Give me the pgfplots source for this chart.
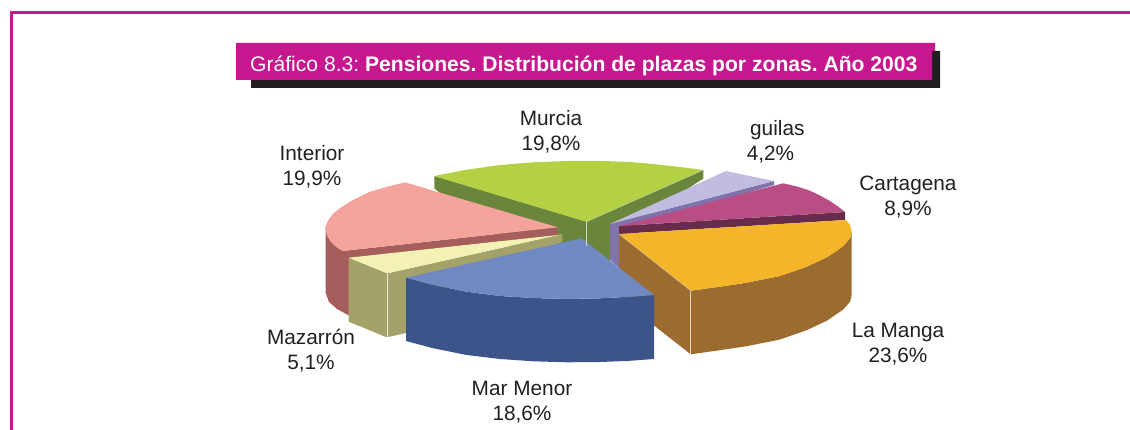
\documentclass[border=0pt]{standalone}
\usepackage{fontspec}
\setmainfont{Liberation Sans}
\usepackage{pgfplots}
\pgfplotsset{compat=1.18}

\definecolor{rosa}{HTML}{C7178E}
\definecolor{negro}{HTML}{231F20}
\definecolor{murciaT}{HTML}{B3D143}
\definecolor{murciaW}{HTML}{6A853C}
\definecolor{aguilasT}{HTML}{C1BDE0}
\definecolor{aguilasW}{HTML}{8073AC}
\definecolor{cartaT}{HTML}{B94E84}
\definecolor{cartaW}{HTML}{672C49}
\definecolor{mangaT}{HTML}{F4B528}
\definecolor{mangaW}{HTML}{9A6C30}
\definecolor{menorT}{HTML}{7089C2}
\definecolor{menorW}{HTML}{3D548B}
\definecolor{mazaT}{HTML}{F3F2B4}
\definecolor{mazaW}{HTML}{A3A268}
\definecolor{interT}{HTML}{F4A49C}
\definecolor{interW}{HTML}{A55E5B}

\begin{document}
\frenchspacing
\begin{tikzpicture}
\useasboundingbox (0,0) rectangle (1130pt,430pt);
\begin{axis}[
    at={(0,0)}, anchor=south west,
    width=1130pt, height=430pt,
    scale only axis,
    hide axis,
    xmin=0, xmax=1130,
    ymin=0, ymax=430,
    y dir=reverse,
    clip=true,
]
% frame
\addplot[rosa, line width=3pt] coordinates {(11,432) (11,13) (1132,13)};

% title box and shadow
\addplot[negro, fill=negro, draw=none] coordinates {(251,60) (932,51) (940,51) (940,88) (251,88)} -- cycle;
\addplot[rosa, fill=rosa, draw=none] coordinates {(236,43) (935,43) (935,51) (932,51) (932,80) (236,80)} -- cycle;

% Murcia walls
\addplot[fill=murciaW, draw=none] coordinates {(434.3,176) (586.5,221.7) (703.3,170) (703.3,178.5) (610,240) (610,285) (560,285) (434.3,188.5)} -- cycle;

% Interior
\addplot[fill=interW, draw=none] coordinates {(325.7,226) (325.7,293) (329,302) (337,309) (348,315) (352,315) (352,258) (557.7,235) (557.7,227.3) (342.7,251)} -- cycle;
\addplot[fill=interT, draw=none] coordinates {(557.7,227.3) (342.7,251) (337.5,248) (333.3,244.3) (329.5,240) (326.7,235) (325.7,230) (326,225) (329,219) (333.3,213.3) (341,207.5) (350,201.7) (360,196.5) (370,191.7) (387,186.8) (405,182.3)} -- cycle;

% Mazarron
\addplot[fill=mazaW, draw=none] coordinates {(348.7,257.7) (387.3,273.3) (562.3,234.3) (562.3,241.7) (420,300) (406,333) (386.7,337.3) (348.7,321.7)} -- cycle;
\addplot[fill=mazaT, draw=none] coordinates {(348.7,257.7) (387.3,273.3) (562.3,234.3) (558,235)} -- cycle;
\addplot[white!75!mazaW, line width=0.6pt] coordinates {(386.8,273.5) (386.8,337)};

% Aguilas
\addplot[fill=aguilasW, draw=none] coordinates {(610,224) (774,181) (774,185) (630,228) (630,270) (618,266.7) (610,260)} -- cycle;
\addplot[fill=aguilasT, draw=none] coordinates {(610,224) (726,171) (774,181)} -- cycle;

% Cartagena
\addplot[fill=cartaW, draw=none] coordinates {(619,226) (845,212) (845,220) (619,234)} -- cycle;
\addplot[fill=cartaT, draw=none] coordinates {(619,226) (783.3,183.3) (797,186.5) (810,190.7) (820,195.5) (830,201) (838,206.5) (845,212)} -- cycle;

% La Manga
\addplot[fill=mangaW, draw=none] coordinates {(619,234) (690.7,290.7) (720,286.7) (746.7,282.7) (780,276) (806.7,266.7) (826.7,257.3) (843.3,246) (850,238.3) (851.7,231.7) (851.7,295.2) (850,301.8) (843.3,309.5) (826.7,320.8) (806.7,330.2) (780,339.5) (746.7,346.2) (720,350.2) (690.7,354.3) (619,298)} -- cycle;
\addplot[fill=mangaT, draw=none] coordinates {(619,234) (845.7,220) (850,225) (851.7,231.7) (850,238.3) (843.3,246) (835.5,252) (826.7,257.3) (806.7,266.7) (780,276) (746.7,282.7) (720,286.7) (690.7,290.7)} -- cycle;
\addplot[white!70!mangaW, line width=0.6pt] coordinates {(690.7,291) (690.7,354)};
\addplot[white!60!mangaW, line width=0.4pt] coordinates {(619,234) (690.7,290.7)};

% Mar Menor
\addplot[fill=menorW, draw=none] coordinates {(406,277.7) (433.3,285) (466.7,291.7) (500,296) (533.3,298) (566.7,299) (600,298.3) (627,297) (654,295) (654,359) (627,361) (600,362) (566.7,362.3) (533,361.3) (500,359) (466.7,355) (433.3,348.3) (406,341)} -- cycle;
\addplot[fill=menorT, draw=none] coordinates {(581.5,238.3) (654,295) (627,297) (600,298.3) (566.7,299) (533.3,298) (500,296) (466.7,291.7) (433.3,285) (406,277.7)} -- cycle;

% Murcia top
\addplot[fill=murciaT, draw=none] coordinates {(586.5,221.7) (434.3,176) (465,170) (500,165) (533,162.3) (566.7,161) (603,161) (630,162) (653,164) (680,167) (703.3,170)} -- cycle;
\addplot[white!70!murciaW, line width=0.6pt] coordinates {(586.5,222) (586.5,246)};
\addplot[white!60!murciaW, line width=0.4pt] coordinates {(586.5,221.7) (703.3,170)};

% title text
\node[anchor=west, inner sep=0pt, text=white, font=\fontsize{21.1pt}{22pt}\selectfont] at (axis cs:250,66) {Gráfico 8.3: \textbf{Pensiones. Distribución de plazas por zonas. Año 2003}};

% labels
\tikzset{lab/.style={align=center, text=negro, font=\fontsize{20.8pt}{25pt}\selectfont}}
\node[lab] at (axis cs:551,131.5) {Murcia\\19,8\%};
\node[lab] at (axis cs:777.3,130) {guilas};
\node[lab] at (axis cs:770.5,154.5) {4,2\%};
\node[lab] at (axis cs:312,167) {Interior\\19,9\%};
\node[lab] at (axis cs:908,197.5) {Cartagena\\8,9\%};
\node[lab] at (axis cs:898,344.5) {La Manga\\23,6\%};
\node[lab] at (axis cs:311,350.5) {Mazarrón\\5,1\%};
\node[lab] at (axis cs:522,402) {Mar Menor\\18,6\%};
\end{axis}
\end{tikzpicture}
\end{document}
